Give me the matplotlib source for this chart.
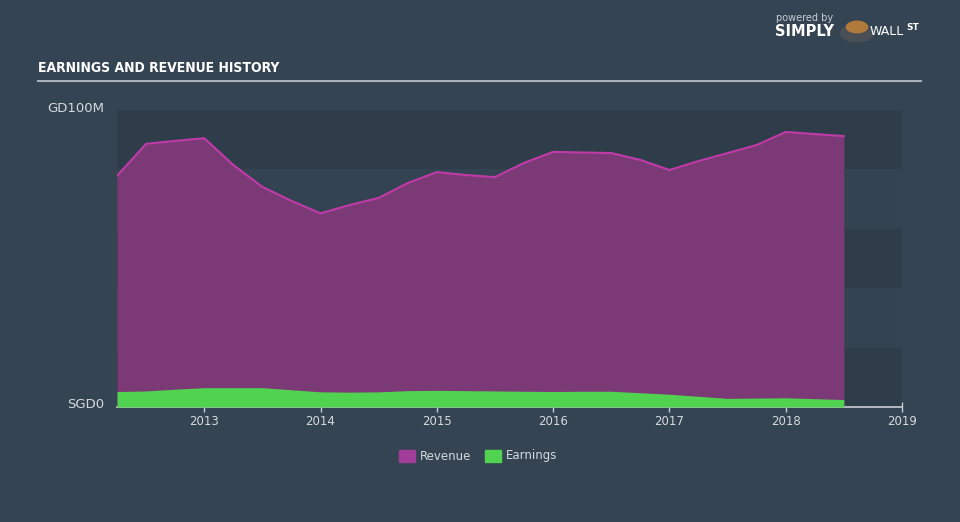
import numpy as np
import matplotlib
matplotlib.use("Agg")
import matplotlib.pyplot as plt
from matplotlib.patches import Rectangle

# quarterly history (fractional year), values in SGD millions
years = [2012.25, 2012.5, 2012.75, 2013.0, 2013.25, 2013.5, 2013.75,
         2014.0, 2014.25, 2014.5, 2014.75, 2015.0, 2015.25, 2015.5, 2015.75,
         2016.0, 2016.25, 2016.5, 2016.75, 2017.0, 2017.25, 2017.5, 2017.75,
         2018.0, 2018.25, 2018.5]
revenue = [77.8, 88.6, 89.6, 90.5, 81.5, 74.1, 69.4,
           65.2, 68.0, 70.4, 75.4, 79.1, 78.1, 77.4, 82.2,
           85.9, 85.7, 85.5, 83.2, 79.8, 82.8, 85.5, 88.2,
           92.6, 91.9, 91.2]
earnings = [5.2, 5.4, 6.0, 6.5, 6.5, 6.5, 5.8,
            5.1, 5.0, 5.1, 5.5, 5.6, 5.5, 5.4, 5.3,
            5.2, 5.3, 5.3, 4.8, 4.3, 3.6, 2.9, 3.0,
            3.1, 2.8, 2.5]
xticks = [2013, 2014, 2015, 2016, 2017, 2018, 2019]

bg = '#344452'
band_dark = '#2f3d4b'
band_light = '#334351'
txt = '#d5dade'

fig = plt.figure(figsize=(9.6, 5.22), dpi=100, facecolor=bg)
ax = fig.add_axes([117/960, 1-407/522, (902-117)/960, (407-110)/522])
ax.set_facecolor(bg)

x0 = years[0]
x1 = 2019.0
ax.set_xlim(x0, x1)
ax.set_ylim(0, 100)

# alternating horizontal bands
for i in range(5):
    c = band_dark if i % 2 == 0 else band_light
    ax.add_patch(Rectangle((x0, i*20), x1-x0, 20, color=c, zorder=0, lw=0))

ax.fill_between(years, revenue, color='#7b3a76', zorder=2, lw=0)
ax.plot(years, revenue, color='#c03aa8', lw=1.5, zorder=3)
ax.fill_between(years, earnings, color='#51d351', zorder=4, lw=0)

for s in ['top', 'right', 'left']:
    ax.spines[s].set_visible(False)
ax.spines['bottom'].set_color('#c8ced4')
ax.spines['bottom'].set_linewidth(1.2)
ax.set_xticks(xticks)
ax.set_xticklabels([str(t) for t in xticks])
ax.tick_params(axis='x', colors='#c8ced4', labelcolor=txt, labelsize=8.5,
               length=7, width=1, direction='inout', pad=2)
ax.set_yticks([])

fig.text(104/960, 1-108/522, 'GD100M', color=txt, fontsize=9.5, ha='right', va='center')
fig.text(104/960, 1-404/522, 'SGD0', color=txt, fontsize=9.5, ha='right', va='center')

# title and rule
fig.text(38/960, 1-68/522, 'EARNINGS AND REVENUE HISTORY', color='white',
         fontsize=10, fontweight='bold', fontstretch='condensed',
         family=['DejaVu Sans'], va='center')
fig.add_artist(plt.Line2D([38/960, 921/960], [1-81/522, 1-81/522],
                          color='#aab1b9', lw=1.5))

# branding
fig.text(776/960, 1-18/522, 'powered by', color='#c8ced4', fontsize=7, va='center')
fig.text(775/960, 1-31/522, 'SIMPLY', color='white', fontsize=10.5,
         fontweight='bold', va='center')
fig.text(870/960, 1-31/522, 'WALL', color='white', fontsize=9, va='center')
fig.text(906/960, 1-28/522, 'ST', color='white', fontsize=6.5,
         fontweight='bold', va='center')
fig.add_artist(plt.Circle((857/960, 1-33/522), 0.017, transform=fig.transFigure,
                          color='#4a4f56'))
fig.add_artist(plt.Circle((857/960, 1-27/522), 0.011, transform=fig.transFigure,
                          color='#b07a3a'))

# legend
fig.add_artist(Rectangle((399/960, 1-462/522), 16/960, 12/522,
                         transform=fig.transFigure, color='#a23e9a'))
fig.text(420/960, 1-456/522, 'Revenue', color=txt, fontsize=8.5, va='center')
fig.add_artist(Rectangle((485/960, 1-462/522), 16/960, 12/522,
                         transform=fig.transFigure, color='#51d351'))
fig.text(506/960, 1-456/522, 'Earnings', color=txt, fontsize=8.5, va='center')

fig.savefig('out.png', dpi=100, facecolor=bg)
